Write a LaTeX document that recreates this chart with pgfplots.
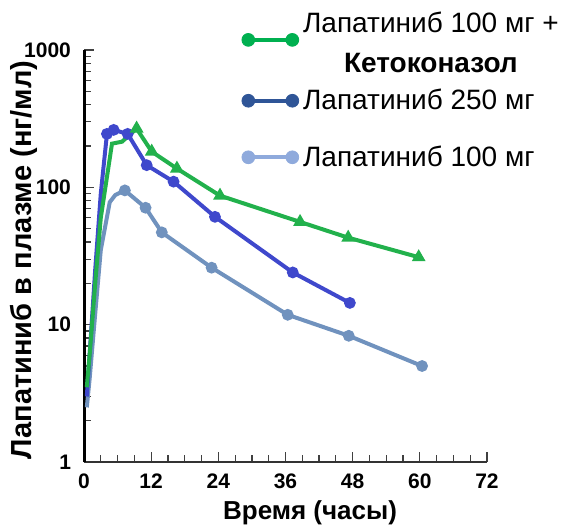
\documentclass[border=0pt]{standalone}
\usepackage{fontspec}
\setmainfont{Liberation Sans}
\usepackage{pgfplots}
\pgfplotsset{compat=1.18}
\definecolor{pgreen}{HTML}{22B14C}
\definecolor{pblue}{HTML}{3F48CC}
\definecolor{plight}{HTML}{7092BE}
\definecolor{lgreen}{HTML}{00B050}
\definecolor{lblue}{HTML}{2F5597}
\definecolor{llight}{HTML}{8FAADC}
\begin{document}
\begin{tikzpicture}
\path[use as bounding box] (0,0) rectangle (288pt,265.5pt);
\begin{axis}[
  at={(42pt,34.5pt)}, anchor=south west,
  scale only axis, width=201.5pt, height=206pt,
  xmin=0, xmax=72, ymin=1, ymax=1000, ymode=log,
  axis x line*=bottom, axis y line*=left,
  xtick={0,12,...,72},
  xticklabels={\textbf{0},\textbf{12},\textbf{24},\textbf{36},\textbf{48},\textbf{60},\textbf{72}},
  minor x tick num=3,
  ytick={1,10,100,1000},
  yticklabels={\textbf{1},\textbf{10},\textbf{100},\textbf{1000}},
  tick align=inside, major tick length=5pt, minor tick length=3.5pt,
  tick style={black!75, line width=0.6pt},
  y axis line style={line width=1.5pt, black},
  x axis line style={line width=1pt, black!80},
  ticklabel style={font=\fontsize{10.5}{11}\selectfont\bfseries},
  xticklabel style={yshift=-2.5pt},
  yticklabel style={xshift=-3pt},
  xlabel={Время (часы)},
  ylabel={Лапатиниб в плазме (нг/мл)},
  xlabel style={font=\fontsize{13}{14}\selectfont\bfseries, at={(axis description cs:0.561,-0.124)}, anchor=center},
  ylabel style={font=\fontsize{14.5}{16}\selectfont\bfseries, at={(axis description cs:-0.150,0.49)}, anchor=center},
  legend style={at={(axis description cs:0.375,1.118)}, anchor=north west,
    draw=none, fill=none, font=\fontsize{14}{16}\selectfont,
    cells={anchor=west}, row sep=12.5pt},
]
\addlegendimage{legend image code/.code={
  \begin{scope}[yshift=-3.5pt]
  \draw[lgreen,line width=2.2pt] (0pt,0pt) -- (22pt,0pt);
  \fill[lgreen] (0pt,0pt) circle (3.2pt); \fill[lgreen] (22pt,0pt) circle (3.2pt);
  \end{scope}}}
\addlegendentry{\begin{tabular}[c]{@{}c@{}}Лапатиниб 100 мг +\\[4pt]\textbf{Кетоконазол}\end{tabular}}
\addlegendimage{legend image code/.code={
  \draw[lblue,line width=2.2pt] (0pt,0pt) -- (22pt,0pt);
  \fill[lblue] (0pt,0pt) circle (3.2pt); \fill[lblue] (22pt,0pt) circle (3.2pt);}}
\addlegendentry{Лапатиниб 250 мг}
\addlegendimage{legend image code/.code={
  \draw[llight,line width=2.2pt] (0pt,0pt) -- (22pt,0pt);
  \fill[llight] (0pt,0pt) circle (3.2pt); \fill[llight] (22pt,0pt) circle (3.2pt);}}
\addlegendentry{Лапатиниб 100 мг}

\addplot[forget plot, plight, line width=2pt, mark=*, mark size=1.9pt, mark indices={7,8,9,10,11,12,13}] coordinates {
 (0.5,2.5) (1,4) (2,12) (3,35) (4.6,78) (5.6,88) (7.3,95) (11,71) (13.9,47)
 (22.8,26) (36.4,11.8) (47.3,8.3) (60.4,5.0)};
\addplot[forget plot, pblue, line width=2pt, mark=*, mark size=1.9pt, mark indices={5,6,7,8,9,10,11,12}] coordinates {
 (0.5,3.0) (1,6) (2,25) (3,90) (4.1,245) (5.3,262) (7.8,245) (11.2,145)
 (16,110) (23.4,61) (37.3,24) (47.5,14.4)};
\addplot[forget plot, pgreen, line width=2pt, mark=triangle*, mark size=2pt, mark indices={7,8,9,10,11,12,13}] coordinates {
 (0.5,3.5) (1,6) (2,20) (3,60) (5.0,208) (6.8,215) (9.4,268) (12.1,182)
 (16.6,137) (24.3,87) (38.6,56) (47.2,43) (59.8,31)};
\end{axis}
\end{tikzpicture}
\end{document}
